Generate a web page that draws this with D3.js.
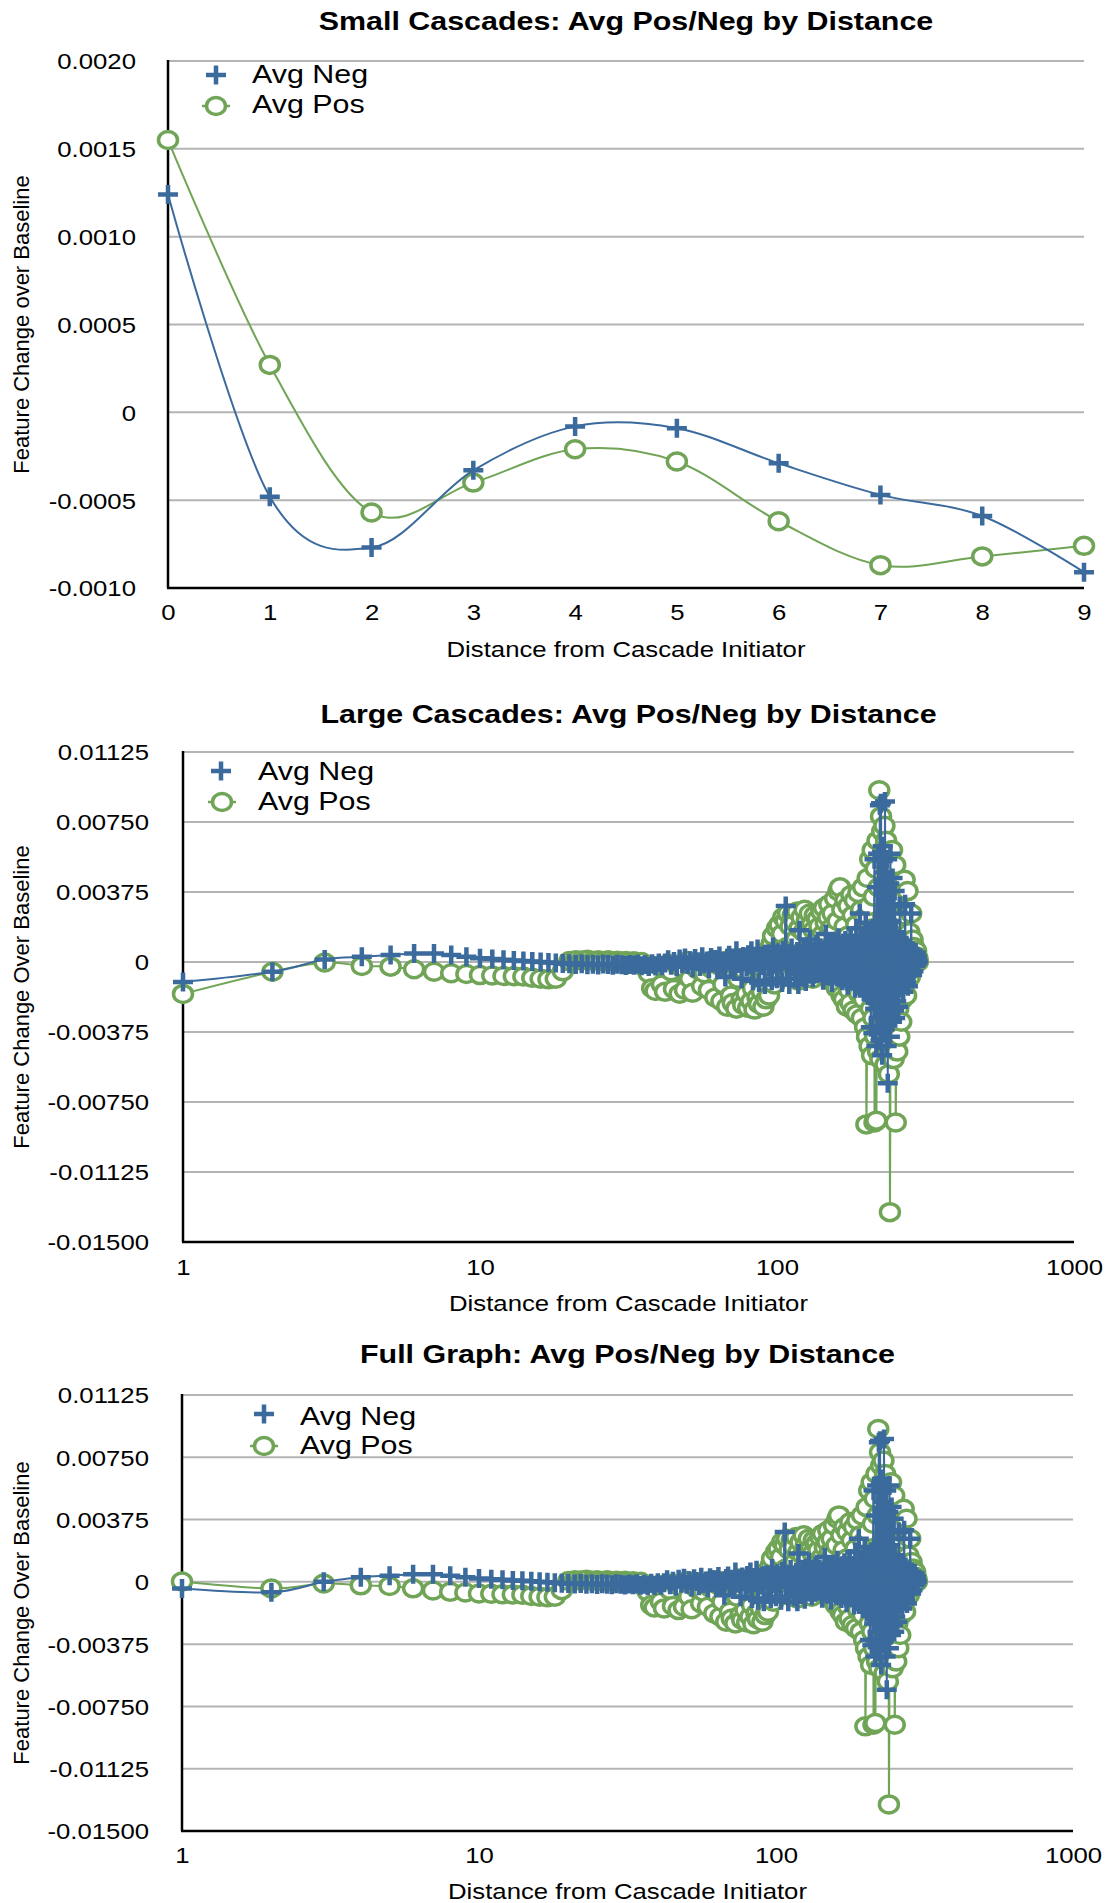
<!DOCTYPE html>
<html>
<head>
<meta charset="utf-8">
<script src="https://cdn.jsdelivr.net/npm/d3@7"></script>
<style>
  body { margin: 0; background: #fff; }
  svg { display: block; }
</style>
</head>
<body>
<svg id="chart" width="1106" height="1903"></svg>
<script>
// ---------------- DATA ----------------
// Chart 1: Small Cascades (distance 0..9)
const smallDistances = [0, 1, 2, 3, 4, 5, 6, 7, 8, 9];
const smallNeg = [0.00124, -0.00048, -0.00077, -0.00033, -0.00008, -0.00009, -0.00029, -0.00047, -0.00059, -0.00091];
const smallPos = [0.00155, 0.00027, -0.00057, -0.0004, -0.00021, -0.00028, -0.00062, -0.00087, -0.00082, -0.00076];
const smallYTicks = [0.002, 0.0015, 0.001, 0.0005, 0, -0.0005, -0.001];
const smallYTickLabels = ["0.0020", "0.0015", "0.0010", "0.0005", "0", "-0.0005", "-0.0010"];
const smallXTickLabels = ["0", "1", "2", "3", "4", "5", "6", "7", "8", "9"];

// Chart 2: Large Cascades, values for distance 1, 2, 3, ... (one per integer distance)
const largeNeg = [
  -0.00107, -0.00052, 0.00014, 0.00028, 0.00037, 0.00046, 0.00046, 0.00037, 0.00028, 0.0002,
  0.00016, 0.00012, 0.00008, 0.00006, 0.00003, 0, -0.00003, -0.00006, -0.00008, -0.0001,
  -0.00013, -0.0001, -0.00015, -0.00012, -0.00016, -0.00011, -0.00014, -0.00018, -0.00012, -0.00015,
  -0.00019, -0.00013, -0.00017, -0.00011, -0.0002, -0.00014, -0.00024, -0.00009, -0.00022, -0.00006,
  -0.0002, -0.00005, 0.00012, -0.00018, 0.00003, -0.00026, 0.00016, -0.00009, 0.00022, -0.00014,
  0.00007, -0.00031, 0.00019, 0.00002, -0.00024, 0.00028, -0.0001, 0.00005, -0.00035, 0.00024,
  -0.00006, 0.00013, -0.00029, 0.00032, -0.00017, 0.00004, -0.0008, 0.0002, 0.00036, -0.00022,
  0.00009, -0.00034, 0.0006, -0.00008, 0.00017, -0.0009, 0.00029, 0.00001, -0.00027, 0.00039,
  -0.00014, 0.0006, -0.001, 0.00011, -0.00003, 0.0007, -0.0011, 0.00025, -0.00019, 0.00034,
  -0.0012, 0.00006, 0.00043, -0.00026, 0.00018, -0.001, 0.0008, -0.00009, 0.00027, -0.0009,
  0.00049, -0.00012, 0.00008, -0.0011, 0.00062, 0.00021, 0.003, -0.0003, 0.00044, -0.0012,
  0.00015, 0.00075, -0.00022, 0.00038, -0.0009, 0.00007, 0.00056, -0.0012, 0.0017, -0.00016,
  0.00041, -0.00072, 0.00068, -0.00004, -0.00105, 0.00082, 0.00026, -0.00047, 0.0012, -0.00033,
  0.00019, -0.00084, 0.00059, 0.00002, -0.00063, 0.00095, -0.00025, 0.00031, -0.00054, 0.00077,
  -0.00011, 0.00047, -0.00098, 0.00023, 0.00064, 0.0015, -0.00039, 0.00012, -0.00075, 0.00088,
  -0.00006, 0.00052, -0.0011, 0.0003, -0.0004, 0.00105, -0.0002, 0.00061, -0.0008, 0.00016,
  0.0013, -0.00058, 0.00036, -0.00015, 0.0009, -0.001, 0.00045, 0.00009, -0.00067, 0.00115,
  -0.00031, 0.0007, -0.00125, 0.00028, 0.00055, -0.00044, 0.0014, -0.00086, 0.0001, 0.00066,
  -0.00029, 0.00099, -0.0014, 0.00033, 0.0018, -0.0006, 0.00049, -0.00002, -0.00118, 0.0026,
  -0.00046, 0.0008, -0.00092, 0.0002, 0.00125, -0.0016, 0.0005, -0.00035, 0.0021, -0.00078,
  0.001, -0.0018, 0.0004, 0.0012, -0.0012, 0.0015, -0.0035, 0.0005, -0.002, 0.0018,
  -0.0038, 0.0014, 0.0055, -0.0025, 0.0006, -0.0045, 0.004, -0.0015, 0.0058, -0.003,
  0.002, 0.0084, -0.0042, 0.0085, 0.001, -0.005, 0.0062, -0.0028, 0.0048, -0.0036,
  0.0086, -0.001, 0.0035, -0.0045, 0.0055, -0.0065, 0.003, -0.0022, 0.0042, -0.004,
  0.0058, -0.0018, 0.0022, -0.0032, 0.0045, -0.0012, 0.0026, -0.0026, 0.0038, -0.003,
  0.0016, -0.0021, 0.0012, -0.0009, 0.0007, -0.0024, 0.0009, -0.0006, 0.003, -0.0012,
  0.0008, -0.0007, 0.0011, -0.0004, 0.0006, -0.0016, 0.0005, -0.0009, 0.0007, 0.0031,
  0.0004, -0.0011, 0.0009, -0.0005, 0.0006, -0.0013, 0.0004, -0.0003, 0.0007, -0.0006,
  0.0005, -0.0004, 0.0026, 0.0002, -0.0007, 0.0006, 0.0001, -0.0005, 0.0004, 0.0001,
  0.0003, -0.0002, 0.0005, 0.0001, -0.0001, 0.0003, 0.0001, 0
];
const largePos = [
  -0.00171, -0.00052, -0.00003, -0.00021, -0.00025, -0.00039, -0.00052, -0.0006, -0.00064, -0.0007,
  -0.00072, -0.00075, -0.00076, -0.00078, -0.00085, -0.0009, -0.00093, -0.0009, -0.0005, 0.00005,
  0.0001, 0.00008, 0.00012, 0.00006, 0.0001, 0.00004, 0.00009, 0.00003, 0.00007, 0.00002,
  0.00006, -0.00002, 0.00004, -0.00005, 0, -0.0003, -0.0006, -0.0014, -0.00155, -0.0002,
  -0.0012, -0.0016, -0.0001, -0.0005, -0.00145, -0.00015, -0.0017, -0.0003, -0.0015, 0.00005,
  -0.0009, -0.00165, -0.00025, -0.0004, -0.00005, -0.0013, -0.0006, -0.0001, -0.0015, -0.00035,
  0.0001, -0.0019, -0.0007, -0.0002, -0.0021, -0.0012, 0.00005, -0.0024, -0.0004, -0.0018,
  -0.0022, -0.00015, -0.0025, -0.0009, 0.0002, -0.002, -0.0023, -0.0005, -0.0017, -0.00245,
  0, -0.0021, -0.0014, -0.00255, -0.0003, -0.0019, -0.00225, 0.0003, -0.0016, -0.0024,
  -0.0006, -0.002, 0.0006, -0.0018, -0.0002, 0.001, 0.0014, -0.0012, 0.0004, 0.0018,
  -0.0006, 0.002, -0.0001, 0.0015, 0.0024, -0.0004, 0.0022, 0.0008, 0.0026, -0.0008,
  0.0019, 0.0002, 0.0025, -0.0003, 0.0021, 0.0012, 0.0027, -0.001, 0.0018, 0.0005,
  0.0024, -0.0005, 0.0016, 0.0028, 0, 0.0022, -0.0007, 0.0014, 0.0026, 0.0003,
  0.002, -0.0009, 0.0017, 0.0025, -0.0002, 0.0011, 0.0023, -0.0006, 0.0019, 0.0006,
  0.0027, -0.0004, 0.0015, 0.0029, 0.0001, 0.0021, -0.0008, 0.0013, 0.0024, 0.0031,
  -0.0003, 0.0018, 0.0009, 0.0026, -0.0011, 0.0016, 0.0034, 0.0004, -0.0014, 0.0022,
  0.0038, -0.0006, 0.004, 0.0012, -0.0018, 0.0028, 0.0002, -0.002, 0.0019, 0.0033,
  -0.0009, -0.0024, 0.0014, 0.003, -0.0015, 0.0006, -0.0022, 0.0036, -0.0004, 0.0025,
  -0.0026, 0.001, 0.0033, -0.0012, 0.002, -0.0028, 0.0004, 0.0037, -0.0017, 0.0015,
  -0.0008, 0.0028, -0.003, 0.0008, 0.004, -0.002, 0.0024, -0.0035, 0.0012, -0.0087,
  -0.004, 0.0045, -0.001, 0.003, -0.0045, 0.0055, -0.0025, 0.0018, -0.005, 0.006,
  -0.003, 0.0035, -0.0086, -0.004, 0.005, -0.0085, -0.002, 0.0065, -0.0048, 0.004,
  0.0092, 0.0015, -0.0052, 0.0078, -0.0035, 0.007, -0.0018, 0.006, -0.0042, 0.0073,
  0.0025, -0.0055, 0.0065, -0.003, 0.005, -0.0045, 0.0058, -0.006, 0.0038, -0.0134,
  -0.005, 0.0045, -0.0038, 0.006, -0.0028, 0.0035, -0.0052, 0.0044, -0.0022, 0.0052,
  -0.0086, -0.0042, 0.0025, -0.0048, 0.0015, -0.0025, 0.002, -0.004, 0.0012, -0.0015,
  0.0018, -0.0032, 0.0012, -0.002, 0.001, -0.001, 0.0025, -0.0012, 0.0044, -0.0006,
  0.0015, -0.0018, 0.0008, -0.0006, 0.0038, -0.0009, 0.0012, 0.0004, 0.0016, -0.0008,
  0.0011, 0.0003, 0.0026, -0.0004, 0.0009, 0.0012, 0.0005, 0, 0.0008, 0.0004,
  0.0006, 0.0002, 0.0004, 0.0006, 0.0003, 0.0001, 0.0002, 0
];
// Chart 3: Full Graph - first distances read separately, the rest matches the large-cascade cloud
const fullNegHead = [-0.0004, -0.00063, 0.0];
const fullPosHead = [0.00002, -0.0004, -0.0001];

const bigYTicks = [0.01125, 0.0075, 0.00375, 0, -0.00375, -0.0075, -0.01125, -0.015];
const bigYTickLabels = ["0.01125", "0.00750", "0.00375", "0", "-0.00375", "-0.00750", "-0.01125", "-0.01500"];
const logXTicks = [1, 10, 100, 1000];
const logXTickLabels = ["1", "10", "100", "1000"];

const seriesNames = ["Avg Neg", "Avg Pos"];

// ---------------- STYLE ----------------
const FONT = '"Liberation Sans", Arial, Helvetica, sans-serif';
const SX = 1.17;               // horizontal widening of the reference's text
const BLUE = "#3b6a9d";
const GREEN = "#70a456";
const GRID = "#b4b4b4";

const svg = d3.select("#chart");

function hText(parent, x, y, str, size, anchor, weight) {
  return parent.append("text")
    .attr("transform", `translate(${x},${y}) scale(${SX},1)`)
    .attr("text-anchor", anchor)
    .attr("font-size", size)
    .attr("font-weight", weight || "normal")
    .attr("font-family", FONT)
    .attr("fill", "#000")
    .text(str);
}

function plusMarker(sel) {
  sel.append("path")
    .attr("d", "M-10,0H10M0,-9.5V9.5")
    .attr("stroke", BLUE).attr("stroke-width", 4.5).attr("fill", "none");
}
function circleMarker(sel) {
  sel.append("ellipse")
    .attr("rx", 9.5).attr("ry", 8.5)
    .attr("fill", "#fff").attr("stroke", GREEN).attr("stroke-width", 3.5);
}

function toPoints(xs, vs) { return vs.map((v, i) => ({ x: xs[i], v })); }

function drawChart(cfg) {
  const { x, y } = cfg;
  const [x0, x1] = x.range();
  const [yb, yt] = y.range();
  const g = svg.append("g");

  // gridlines
  g.append("g").selectAll("line")
    .data(cfg.yTicks.filter(t => t !== y.domain()[0]))
    .join("line")
    .attr("x1", x0).attr("x2", x1)
    .attr("y1", d => y(d)).attr("y2", d => y(d))
    .attr("stroke", GRID).attr("stroke-width", 2);

  // y axis tick labels
  const ya = g.append("g").attr("transform", `translate(${x0},0)`)
    .call(d3.axisLeft(y).tickValues(cfg.yTicks).tickFormat((d, i) => cfg.yTickLabels[i]).tickSize(0).tickPadding(0));
  ya.attr("font-family", null).attr("font-size", null);
  ya.select(".domain").remove();
  ya.selectAll(".tick line").remove();
  ya.selectAll(".tick text")
    .attr("x", null).attr("dy", null)
    .attr("transform", `translate(${-cfg.yLabelGap},7.9) scale(${SX},1)`)
    .attr("font-size", 22).attr("font-family", FONT).attr("fill", "#000");

  // x axis tick labels
  const xa = g.append("g").attr("transform", `translate(0,${yb})`)
    .call(d3.axisBottom(x).tickValues(cfg.xTicks).tickFormat((d, i) => cfg.xTickLabels[i]).tickSize(0).tickPadding(0));
  xa.attr("font-family", null).attr("font-size", null);
  xa.select(".domain").remove();
  xa.selectAll(".tick line").remove();
  xa.selectAll(".tick text")
    .attr("y", null).attr("dy", null)
    .attr("transform", `translate(0,${cfg.xTickBaseline - yb}) scale(${SX},1)`)
    .attr("font-size", 22).attr("font-family", FONT).attr("fill", "#000");

  // axis lines
  g.append("line").attr("x1", x0).attr("x2", x0).attr("y1", yt - 1).attr("y2", yb)
    .attr("stroke", "#000").attr("stroke-width", 2.5);
  g.append("line").attr("x1", x0 - 1).attr("x2", x1).attr("y1", yb).attr("y2", yb)
    .attr("stroke", "#000").attr("stroke-width", 2.5);

  // series: Pos first (under), Neg on top
  const line = d3.line().x(d => x(d.x)).y(d => y(d.v)).curve(d3.curveCardinal.tension(0));
  const draw = (pts, color, marker) => {
    g.append("path").datum(pts).attr("d", line)
      .attr("fill", "none").attr("stroke", color).attr("stroke-width", 2);
    g.append("g").selectAll("g").data(pts).join("g")
      .attr("transform", d => `translate(${x(d.x)},${y(d.v)})`)
      .each(function () { marker(d3.select(this)); });
  };
  draw(cfg.pos, GREEN, circleMarker);
  draw(cfg.neg, BLUE, plusMarker);

  // title
  const cx = (x0 + x1) / 2;
  hText(g, cx, cfg.titleBaseline, cfg.title, 26, "middle", "bold");
  // x label
  hText(g, cx, cfg.xLabelBaseline, "Distance from Cascade Initiator", 22, "middle");
  // y label
  g.append("text")
    .attr("transform", `translate(28.5,${(yt + yb) / 2}) rotate(-90)`)
    .attr("text-anchor", "middle").attr("font-size", 22).attr("font-family", FONT)
    .attr("fill", "#000").text(cfg.yLabel);

  // legend
  const L = cfg.legend;
  const lp = g.append("g").attr("transform", `translate(${L.plus[0]},${L.plus[1]})`);
  plusMarker(lp);
  hText(g, L.textX, L.base[0], seriesNames[0], 26, "start");
  const lc = g.append("g").attr("transform", `translate(${L.circle[0]},${L.circle[1]})`);
  lc.append("line").attr("x1", -14).attr("x2", 14).attr("stroke", GREEN).attr("stroke-width", 2.5);
  circleMarker(lc);
  hText(g, L.textX, L.base[1], seriesNames[1], 26, "start");
}

// ---------- Chart 1 ----------
drawChart({
  x: d3.scaleLinear().domain([0, 9]).range([168, 1084]),
  y: d3.scaleLinear().domain([-0.001, 0.002]).range([588, 61]),
  yTicks: smallYTicks, yTickLabels: smallYTickLabels, yLabelGap: 32,
  xTicks: smallDistances, xTickLabels: smallXTickLabels, xTickBaseline: 620,
  xLabelBaseline: 657, titleBaseline: 30,
  title: "Small Cascades: Avg Pos/Neg by Distance",
  yLabel: "Feature Change over Baseline",
  neg: toPoints(smallDistances, smallNeg),
  pos: toPoints(smallDistances, smallPos),
  legend: { plus: [216, 75], circle: [216, 106], textX: 252, base: [83, 113] }
});

// ---------- Chart 2 ----------
const largeDistances = largeNeg.map((_, i) => i + 1);
drawChart({
  x: d3.scaleLog().domain([1, 1000]).range([183, 1074]),
  y: d3.scaleLinear().domain([-0.015, 0.01125]).range([1242, 752]),
  yTicks: bigYTicks, yTickLabels: bigYTickLabels, yLabelGap: 34,
  xTicks: logXTicks, xTickLabels: logXTickLabels, xTickBaseline: 1275,
  xLabelBaseline: 1311, titleBaseline: 723,
  title: "Large Cascades: Avg Pos/Neg by Distance",
  yLabel: "Feature Change Over Baseline",
  neg: toPoints(largeDistances, largeNeg),
  pos: toPoints(largeDistances, largePos),
  legend: { plus: [221, 771], circle: [222, 802], textX: 258, base: [780, 810] }
});

// ---------- Chart 3 ----------
const fullNeg = fullNegHead.concat(largeNeg.slice(fullNegHead.length));
const fullPos = fullPosHead.concat(largePos.slice(fullPosHead.length));
drawChart({
  x: d3.scaleLog().domain([1, 1000]).range([182, 1073]),
  y: d3.scaleLinear().domain([-0.015, 0.01125]).range([1831, 1395]),
  yTicks: bigYTicks, yTickLabels: bigYTickLabels, yLabelGap: 33,
  xTicks: logXTicks, xTickLabels: logXTickLabels, xTickBaseline: 1863,
  xLabelBaseline: 1899, titleBaseline: 1363,
  title: "Full Graph: Avg Pos/Neg by Distance",
  yLabel: "Feature Change Over Baseline",
  neg: toPoints(largeDistances, fullNeg),
  pos: toPoints(largeDistances, fullPos),
  legend: { plus: [264, 1414], circle: [264, 1446], textX: 300, base: [1425, 1454] }
});
</script>
</body>
</html>
